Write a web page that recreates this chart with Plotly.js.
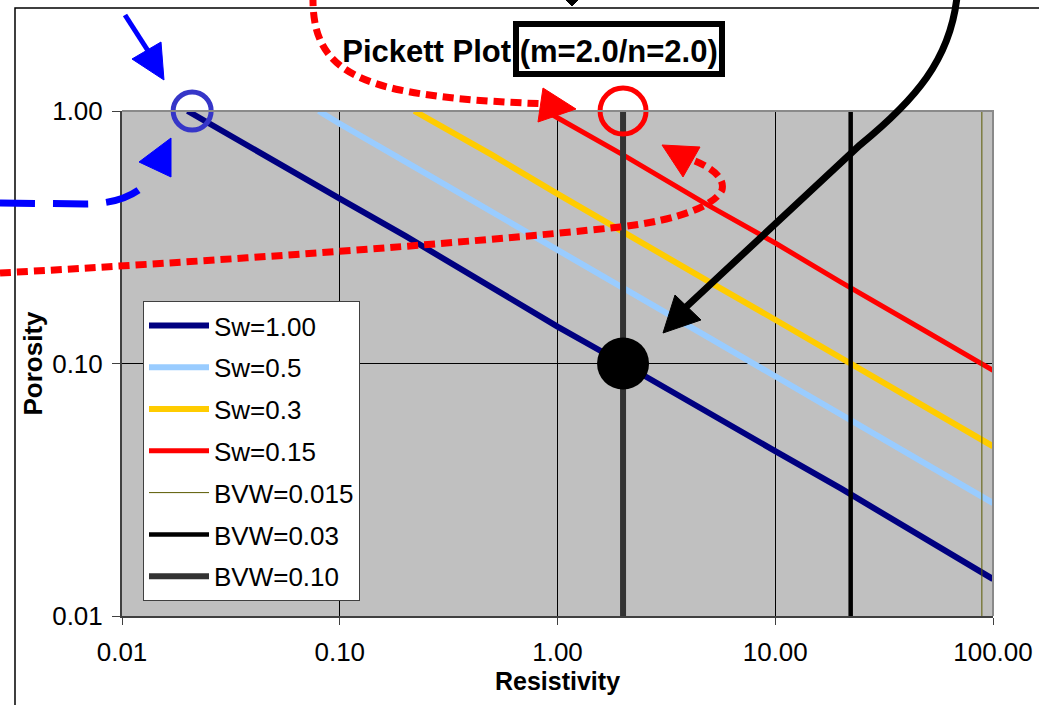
<!DOCTYPE html>
<html>
<head>
<meta charset="utf-8">
<script src="https://cdn.plot.ly/plotly-3.0.1.min.js"></script>
<style>html,body{margin:0;padding:0;background:#fff;}#chart{width:1039px;height:705px;}</style>
</head>
<body>
<div id="chart"></div>
<script>
// ---- Data ----
const sw100_R   = [0.02, 0.05, 0.1, 0.2, 0.5, 1, 2, 5, 10, 20, 50, 100];
const sw100_phi = [1.00, 0.63, 0.45, 0.32, 0.20, 0.14, 0.10, 0.063, 0.045, 0.032, 0.020, 0.014];
const sw50_R    = [0.08, 0.1, 0.2, 0.5, 1, 2, 5, 10, 20, 50, 100];
const sw50_phi  = [1.00, 0.89, 0.63, 0.40, 0.28, 0.20, 0.126, 0.089, 0.063, 0.040, 0.028];
const sw30_R    = [0.22, 0.5, 1, 2, 5, 10, 20, 50, 100];
const sw30_phi  = [1.00, 0.67, 0.47, 0.33, 0.21, 0.149, 0.105, 0.067, 0.047];
const sw15_R    = [0.89, 1, 2, 5, 10, 20, 50, 100];
const sw15_phi  = [1.00, 0.94, 0.67, 0.42, 0.30, 0.21, 0.133, 0.094];
const bvw_names = ["BVW=0.015", "BVW=0.03", "BVW=0.10"];
const bvw_R     = [88.9, 22.2, 2.0];
const bvw_phi   = [0.01, 1.0];
const mark_blue_R = [0.021], mark_blue_phi = [1.0];
const mark_red_R  = [2.0],   mark_red_phi  = [1.0];
const mark_dot_R  = [2.0],   mark_dot_phi  = [0.1];
const xTickVals = [0.01, 0.1, 1, 10, 100];
const xTickText = ["0.01", "0.10", "1.00", "10.00", "100.00"];
const yTickVals = [0.01, 0.1, 1];
const yTickText = ["0.01", "0.10", "1.00"];

// ---- layout helpers (pixel -> paper) ----
const L = 122, R = 993, T = 111, B = 616;
const px2x = p => (p - L) / (R - L);
const px2y = p => (B - p) / (B - T);
function path(s) {
  return s.replace(/(-?\d+(?:\.\d+)?),(-?\d+(?:\.\d+)?)/g,
    (m, a, b) => px2x(+a).toFixed(5) + ',' + px2y(+b).toFixed(5));
}
function lineShape(p, color, width, dash) {
  return {type: 'path', xref: 'paper', yref: 'paper', layer: 'above', path: path(p),
          line: {color: color, width: width, dash: dash || 'solid'}};
}
function fillShape(p, color) {
  return {type: 'path', xref: 'paper', yref: 'paper', layer: 'above', path: path(p),
          fillcolor: color, line: {color: color, width: 1}};
}

const FONT = 'Liberation Sans, Arial, sans-serif';

const traces = [
  {x: sw100_R, y: sw100_phi, name: 'Sw=1.00', mode: 'lines', line: {color: '#000080', width: 6}},
  {x: sw50_R,  y: sw50_phi,  name: 'Sw=0.5',  mode: 'lines', line: {color: '#99CCFF', width: 6}},
  {x: sw30_R,  y: sw30_phi,  name: 'Sw=0.3',  mode: 'lines', line: {color: '#FFCC00', width: 6}},
  {x: sw15_R,  y: sw15_phi,  name: 'Sw=0.15', mode: 'lines', line: {color: '#FF0000', width: 5}},
  {x: [bvw_R[0], bvw_R[0]], y: bvw_phi, name: bvw_names[0], mode: 'lines', line: {color: '#5a5a00', width: 1}},
  {x: [bvw_R[1], bvw_R[1]], y: bvw_phi, name: bvw_names[1], mode: 'lines', line: {color: '#000000', width: 4.5}},
  {x: [bvw_R[2], bvw_R[2]], y: bvw_phi, name: bvw_names[2], mode: 'lines', line: {color: '#333333', width: 6}},
  {x: mark_dot_R, y: mark_dot_phi, mode: 'markers', showlegend: false, cliponaxis: false,
   marker: {symbol: 'circle', size: 52, color: '#000'}},
  {x: mark_blue_R, y: mark_blue_phi, mode: 'markers', showlegend: false, cliponaxis: false,
   marker: {symbol: 'circle-open', size: 38, color: '#3636C8', line: {width: 5, color: '#3636C8'}}},
  {x: mark_red_R, y: mark_red_phi, mode: 'markers', showlegend: false, cliponaxis: false,
   marker: {symbol: 'circle-open', size: 46, color: '#FF0000', line: {width: 5, color: '#FF0000'}}}
];
traces.forEach((t, i) => { t.legendgroup = 'g' + i; t.hoverinfo = 'skip'; });

const shapes = [
  lineShape('M 15,710 L 15,8 L 1045,8', '#000', 1.5),
  lineShape('M 122,111 L 993,111 L 993,616', '#8a8a8a', 2),
  fillShape('M 566,0 L 578,0 L 572,6 Z', '#000'),
  // blue arrow and marks
  lineShape('M 125,15 L 152,57', '#0000FF', 5),
  fillShape('M 132,59 L 161,42 L 164,80 Z', '#0000FF'),
  fillShape('M 139,162 L 171,138 L 171,177 Z', '#0000FF'),
  lineShape('M 0,203 L 85,204 C 110,204 128,198 140,189', '#0000FF', 7, '35px,18px'),
  // red dotted curves
  lineShape('M 313,-5 C 312,45 330,75 400,90 C 450,100 500,102 548,104', '#FF0000', 7, '11px,6px'),
  fillShape('M 543,88 L 576,109 L 538,122 Z', '#FF0000'),
  lineShape('M 0,273 C 200,262 450,245 620,227 C 680,220 715,205 722,190 C 725,178 712,168 695,161', '#FF0000', 7, '11px,6px'),
  fillShape('M 662,145 L 700,147 L 683,177 Z', '#FF0000'),
  // black curved arrow
  lineShape('M 957,-3 C 950,60 915,100 860,145 L 685,308', '#000', 7),
  fillShape('M 663,333 L 675,295 L 701,320 Z', '#000'),
  // box around title part
  lineShape('M 516,24 L 722,24 L 722,74 L 516,74 Z', '#000', 6)
];

const layout = {
  width: 1039, height: 705,
  margin: {l: L, r: 1039 - R, t: T, b: 705 - B, pad: 0},
  paper_bgcolor: '#FFFFFF', plot_bgcolor: '#C0C0C0',
  font: {family: FONT, color: '#000'},
  title: {text: '<b>Pickett Plot (m=2.0/n=2.0)</b>', font: {family: FONT, size: 31, color: '#000'},
          xref: 'paper', x: px2x(530), xanchor: 'center', yref: 'container', y: 1 - 51 / 705, yanchor: 'middle'},
  xaxis: {type: 'log', range: [-2, 2], tickvals: xTickVals, ticktext: xTickText,
          ticks: 'outside', ticklen: 7, tickwidth: 1, tickcolor: '#404040',
          showline: true, linecolor: '#404040', linewidth: 2,
          showgrid: true, gridcolor: '#000', gridwidth: 1, zeroline: false,
          tickfont: {family: FONT, size: 26, color: '#000'}, ticklabelstandoff: 5,
          title: {text: '<b>Resistivity</b>', font: {family: FONT, size: 25, color: '#000'}, standoff: 4},
          automargin: false, fixedrange: true},
  yaxis: {type: 'log', range: [-2, 0], tickvals: yTickVals, ticktext: yTickText,
          ticks: 'outside', ticklen: 8, tickwidth: 1, tickcolor: '#404040',
          showline: true, linecolor: '#404040', linewidth: 2,
          showgrid: true, gridcolor: '#000', gridwidth: 1, zeroline: false,
          tickfont: {family: FONT, size: 26, color: '#000'}, ticklabelstandoff: 4,
          title: {text: '<b>Porosity</b>', font: {family: FONT, size: 26, color: '#000'}, standoff: 2},
          automargin: false, fixedrange: true},
  legend: {x: px2x(143), y: px2y(301), xanchor: 'left', yanchor: 'top',
           bgcolor: '#FFFFFF', bordercolor: '#404040', borderwidth: 1,
           font: {family: FONT, size: 26, color: '#000'},
           itemwidth: 60, traceorder: 'grouped', tracegroupgap: 5},
  shapes: shapes,
  showlegend: true
};

Plotly.newPlot('chart', traces, layout, {staticPlot: true, displayModeBar: false});
</script>
</body>
</html>
